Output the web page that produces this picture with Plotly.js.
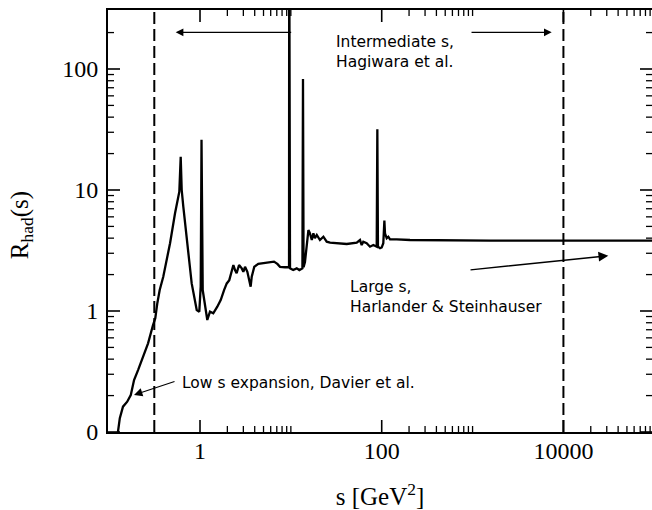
<!DOCTYPE html>
<html>
<head>
<meta charset="utf-8">
<script src="https://cdn.plot.ly/plotly-3.0.1.min.js"></script>
<style>html,body{margin:0;padding:0;background:#fff;}#chart{width:652px;height:510px;}</style>
</head>
<body>
<div id="chart"></div>
<script>
// ---- data ----
var s_GeV2 = [0.125,0.131,0.142,0.158,0.173,0.188,0.208,0.236,0.268,0.304,0.322,0.339,0.360,0.394,0.468,0.531,0.577,0.592,0.613,0.629,0.655,0.714,0.810,0.920,0.982,1.018,1.039,1.071,1.135,1.203,1.288,1.40,1.55,1.69,1.84,1.97,2.10,2.23,2.33,2.43,2.53,2.69,2.88,3.00,3.13,3.32,3.49,3.61,3.71,3.86,3.96,4.38,4.98,5.90,6.52,7.10,7.60,8.63,9.38,9.55,9.59,9.63,9.79,10.6,11.6,12.4,13.4,13.6,13.8,14.3,15.6,16.2,17.0,17.7,18.4,19.3,20.9,22.8,24.8,27.0,32.0,41.2,53.1,57.7,60.2,62.7,68.3,74.3,80.9,88.1,89.5,90.9,95.8,100.0,104.1,107.0,108.7,113.5,118.3,123.4,146.2,204.8,1556,100000];
var R_had = [0.1,0.130,0.162,0.178,0.202,0.269,0.325,0.419,0.541,0.766,0.871,1.16,1.49,1.92,3.63,6.42,8.54,9.68,18.8,10.0,7.28,3.86,1.69,1.02,0.987,1.59,26.0,1.49,1.085,0.843,0.987,0.957,1.085,1.23,1.49,1.69,1.80,2.18,2.40,2.18,2.05,2.40,2.25,2.11,2.32,2.11,1.75,1.59,1.92,2.18,2.32,2.45,2.48,2.51,2.56,2.45,2.32,2.30,2.32,2.30,2000,2.30,2.25,2.18,2.25,2.18,2.25,82.6,2.30,2.54,4.67,4.39,3.86,4.39,3.99,4.25,3.86,4.11,3.74,3.67,3.63,3.58,3.67,3.86,3.51,3.74,3.63,3.40,3.51,3.40,31.8,3.40,3.30,3.35,3.63,5.6,4.39,3.99,4.11,3.91,3.91,3.86,3.81,3.81];

// region boundaries (dashed lines)
var boundaries = [0.314, 10000];

// tick labels
var xTickVals = [1, 100, 10000];
var xTickText = ['1', '100', '10000'];
var xMinorVals = [2,3,4,5,6,7,8,9,10,200,300,400,500,600,700,800,900,1000,20000,30000,40000,50000,60000,70000,80000,90000];
var yTickVals = [0.1, 1, 10, 100];
var yTickText = ['0', '1', '10', '100'];
var yMinorVals = [0.2,0.3,0.4,0.5,0.6,0.7,0.8,0.9,2,3,4,5,6,7,8,9,20,30,40,50,60,70,80,90,200];

// texts
var xTitle = 's [GeV<sup>2</sup>]';
var yTitle = 'R<sub>had</sub>(s)';
var labels = ['Intermediate s,<br>Hagiwara et al.', 'Large s,<br>Harlander &amp; Steinhauser', 'Low s expansion, Davier et al.'];

var serif = 'Liberation Serif, Times New Roman, serif';
var sans = 'DejaVu Sans, Verdana, sans-serif';
var W = 652, H = 510, M = {l:108, r:0, t:10, b:78};
var xRange = [-1.0127, 4.975];
var yRange = [-1, 2.4876];
var xPxPerDec = (W - M.l - M.r) / (xRange[1] - xRange[0]);
var yPxPerDec = (H - M.t - M.b) / (yRange[1] - yRange[0]);

var trace = {
  x: s_GeV2, y: R_had, type: 'scatter', mode: 'lines',
  line: {color: '#000', width: 2.3}, hoverinfo: 'skip', showlegend: false
};

// inside tick marks on all four sides, drawn as line segments through the axis scales
function tickTrace(xv, yv, len, w){
  var tx = [], ty = [];
  var dy = len / yPxPerDec, dx = len / xPxPerDec;
  xv.forEach(function(v){
    tx.push(v, v, null, v, v, null);
    ty.push(Math.pow(10, yRange[0]), Math.pow(10, yRange[0] + dy), null,
            Math.pow(10, yRange[1]), Math.pow(10, yRange[1] - dy), null);
  });
  yv.forEach(function(v){
    ty.push(v, v, null, v, v, null);
    tx.push(Math.pow(10, xRange[0]), Math.pow(10, xRange[0] + dx), null,
            Math.pow(10, xRange[1]), Math.pow(10, xRange[1] - dx), null);
  });
  return {x: tx, y: ty, type: 'scatter', mode: 'lines', connectgaps: false,
          line: {color: '#000', width: w}, hoverinfo: 'skip', showlegend: false};
}
var majorTicks = tickTrace(xTickVals, yTickVals, 12, 1.6);
var minorTicks = tickTrace(xMinorVals, yMinorVals, 6, 1.3);

var shapes = boundaries.map(function(b){
  return {type:'line', xref:'x', yref:'paper', x0:b, x1:b, y0:0, y1:1,
          line:{color:'#000', width:2, dash:'12px,5px'}};
});

function arrow(xh, yh, xt, yt, w){
  return {x:xh, y:yh, ax:xt, ay:yt, xref:'x', yref:'y', axref:'x', ayref:'y',
          text:'', showarrow:true, arrowhead:2, arrowsize:1.4, arrowwidth:w, arrowcolor:'#000'};
}
function label(x, y, t){
  return {x:x, y:y, xref:'x', yref:'y', text:t, showarrow:false, xanchor:'left', yanchor:'middle',
          align:'left', borderpad:0, font:{family:sans, size:15.5, color:'#000'}};
}

var annotations = [
  arrow(-0.2675, 2.303, 1.020, 2.303, 1.1),
  arrow(3.871, 2.303, 2.972, 2.303, 1.1),
  arrow(4.494, 0.457, 2.961, 0.339, 1.4),
  arrow(-0.7265, -0.694, -0.264, -0.5785, 1.2),
  label(1.49, 2.143, labels[0]),
  label(1.645, 0.118, labels[1]),
  label(-0.21, -0.5975, labels[2]),
  {x:-0.16, y:0.49, xref:'paper', yref:'paper', text:yTitle, textangle:-90, showarrow:false,
   xanchor:'center', yanchor:'middle', font:{family:serif, size:25, color:'#000'}}
];

var axisCommon = {
  type:'log', tickmode:'array', ticks:'',
  showline:true, linewidth:2, linecolor:'#000', mirror:true, showgrid:false, zeroline:false,
  tickfont:{family:serif, size:24, color:'#000'}
};

var layout = {
  width:W, height:H,
  margin:M,
  paper_bgcolor:'#fff', plot_bgcolor:'#fff',
  xaxis: Object.assign({}, axisCommon, {
    range:xRange, tickvals:xTickVals, ticktext:xTickText, ticklabelstandoff:-4,
    title:{text:xTitle, font:{family:serif, size:25, color:'#000'}}
  }),
  yaxis: Object.assign({}, axisCommon, {
    range:yRange, tickvals:yTickVals, ticktext:yTickText, ticklabelstandoff:3
  }),
  shapes: shapes,
  annotations: annotations
};

Plotly.newPlot('chart', [minorTicks, majorTicks, trace], layout, {displayModeBar:false, staticPlot:true});
</script>
</body>
</html>
